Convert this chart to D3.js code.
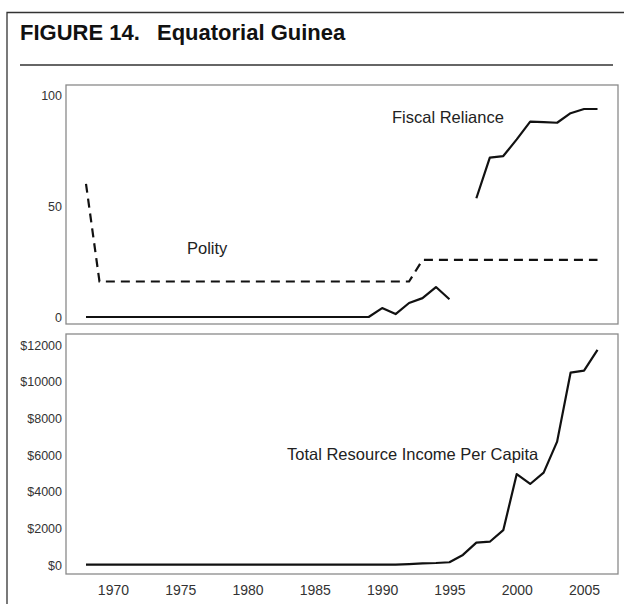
<!DOCTYPE html>
<html>
<head>
<meta charset="utf-8">
<script src="https://cdn.jsdelivr.net/npm/d3@7/dist/d3.min.js"></script>
<style>
  html, body { margin: 0; padding: 0; background: #fff; }
  svg { display: block; }
  text { font-family: "Liberation Sans", Arial, Helvetica, sans-serif; }
</style>
</head>
<body>
<svg id="chart" width="624" height="604"></svg>
<script>
// ---- data ----
const years = [1968,1969,1970,1971,1972,1973,1974,1975,1976,1977,1978,1979,1980,1981,1982,1983,1984,1985,1986,1987,1988,1989,1990,1991,1992,1993,1994,1995,1996,1997,1998,1999,2000,2001,2002,2003,2004,2005,2006];
const polity = [60,16,16,16,16,16,16,16,16,16,16,16,16,16,16,16,16,16,16,16,16,16,16,16,16,25.7,25.7,25.7,25.7,25.7,25.7,25.7,25.7,25.7,25.7,25.7,25.7,25.7,25.7];
const fiscalReliance = [0,0,0,0,0,0,0,0,0,0,0,0,0,0,0,0,0,0,0,0,0,0,4,1.3,6.3,8.5,13.5,8,null,53.5,71.8,72.5,80,88,87.8,87.5,91.8,93.7,93.7];
const resourceIncome = [20,20,20,20,20,20,20,20,20,20,20,20,20,20,20,20,20,20,20,20,20,20,20,20,50,90,110,150,550,1220,1270,1900,4960,4420,5040,6730,10490,10600,11730];
const xTicks = [1970,1975,1980,1985,1990,1995,2000,2005];
const topTicks = [0,50,100];
const bottomTicks = [0,2000,4000,6000,8000,10000,12000];
const titleParts = ["FIGURE 14.", "Equatorial Guinea"];
const labels = {polity: "Polity", fiscal: "Fiscal Reliance", income: "Total Resource Income Per Capita"};

// ---- layout ----
const svg = d3.select("#chart");
const boxL = 66, boxR = 618;
const top1 = 85, bot1 = 324, top2 = 334, bot2 = 574;

const x = d3.scaleLinear().domain([1968, 2006]).range([86, 597.5]);
const y1 = d3.scaleLinear().domain([0, 100]).range([317, 95]);
const y2 = d3.scaleLinear().domain([0, 12000]).range([565, 345]);

// outer frame
svg.append("path").attr("d", "M7,604 L7,12.5 L624,12.5")
  .attr("fill", "none").attr("stroke", "#333").attr("stroke-width", 1.3);

// title
const title = svg.append("text").attr("x", 20).attr("y", 40)
  .attr("font-size", 22).attr("font-weight", "bold").attr("fill", "#111");
title.append("tspan").text(titleParts[0]);
title.append("tspan").attr("x", 157).text(titleParts[1]);
svg.append("line").attr("x1", 20).attr("x2", 613).attr("y1", 65).attr("y2", 65)
  .attr("stroke", "#333").attr("stroke-width", 1.3);

// panel boxes
[[top1, bot1], [top2, bot2]].forEach(([t, b]) => {
  svg.append("rect").attr("x", boxL).attr("y", t).attr("width", boxR - boxL).attr("height", b - t)
    .attr("fill", "none").attr("stroke", "#8a8a8a").attr("stroke-width", 1.3);
});

// y axes (no ticks lines, labels only)
const axTop = d3.axisLeft(y1).tickValues(topTicks).tickSize(0).tickPadding(0).tickFormat(d3.format("d"));
const gTop = svg.append("g").attr("transform", "translate(62,0)").call(axTop);
const axBot = d3.axisLeft(y2).tickValues(bottomTicks).tickSize(0).tickPadding(0).tickFormat(d => "$" + d);
const gBot = svg.append("g").attr("transform", "translate(62,0)").call(axBot);
const axX = d3.axisBottom(x).tickValues(xTicks).tickSize(0).tickPadding(0).tickFormat(d3.format("d"));
const gX = svg.append("g").attr("transform", "translate(0,585)").call(axX);
[gTop, gBot, gX].forEach(g => {
  g.select(".domain").remove();
  g.selectAll("text").attr("font-family", "'Liberation Sans', Arial, sans-serif").attr("fill", "#333");
});
gTop.selectAll("text").attr("font-size", 12.5);
gBot.selectAll("text").attr("font-size", 12.5);
gX.selectAll("text").attr("font-size", 14);

// lines
const rows = years.map((yr, i) => ({yr, polity: polity[i], fiscal: fiscalReliance[i], income: resourceIncome[i]}));

const polityLine = d3.line().x(d => x(d.yr)).y(d => y1(d.polity));
svg.append("path").datum(rows).attr("d", polityLine)
  .attr("fill", "none").attr("stroke", "#111").attr("stroke-width", 2.2).attr("stroke-dasharray", "9,6");

const fiscalLine = d3.line().defined(d => d.fiscal !== null).x(d => x(d.yr)).y(d => y1(d.fiscal));
svg.append("path").datum(rows).attr("d", fiscalLine)
  .attr("fill", "none").attr("stroke", "#111").attr("stroke-width", 2.2).attr("stroke-linejoin", "round");

const incomeLine = d3.line().x(d => x(d.yr)).y(d => y2(d.income));
svg.append("path").datum(rows).attr("d", incomeLine)
  .attr("fill", "none").attr("stroke", "#111").attr("stroke-width", 2.2).attr("stroke-linejoin", "round");

// annotations
svg.append("text").attr("x", 187).attr("y", 254).attr("font-size", 16.5).attr("fill", "#222").text(labels.polity);
svg.append("text").attr("x", 392).attr("y", 123).attr("font-size", 16.5).attr("fill", "#222").text(labels.fiscal);
svg.append("text").attr("x", 287).attr("y", 460).attr("font-size", 16.5).attr("fill", "#222").text(labels.income);
</script>
</body>
</html>
